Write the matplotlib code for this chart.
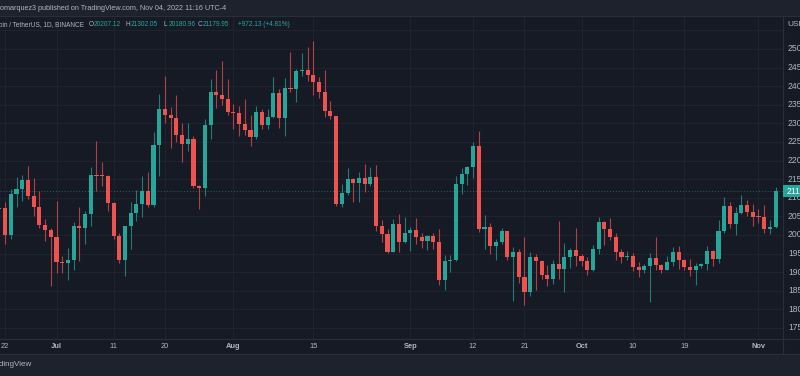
import matplotlib
matplotlib.use("Agg")
import matplotlib.pyplot as plt
import matplotlib.dates as mdates
from matplotlib import font_manager
from matplotlib.patches import Rectangle
from matplotlib.transforms import blended_transform_factory
import datetime as dt

# ---------------- data (BTC/USDT daily) ----------------
start_date = "2022-06-20"
opens = [20553, 20711, 20724, 19988, 21110, 21237, 21491, 21038, 20742, 20281, 20123,
         19942, 19279, 19252, 19315, 20236, 20175, 20564, 21624, 21594, 21591, 20862,
         19963, 19328, 20234, 20588, 20830, 21195, 20798, 22432, 23396, 23223, 23152,
         22684, 22451, 22579, 21310, 21254, 22952, 23842, 23773, 23643,
         23293, 23268, 22987, 22818, 22622, 23312, 22954, 23175, 23810, 23149, 23954,
         23935, 24403, 24442, 24306, 24103, 23855, 23342, 23191, 20835, 21140, 21517,
         21400, 21528, 21368, 21559, 20241, 20037, 19555, 20285, 19812,
         20050, 20127, 19952, 19832, 19986, 19812, 18791, 19290, 19319, 21361, 21652,
         21826, 22395, 20174, 20227, 19701, 19804, 20113, 19417, 19537, 18875, 18461,
         19401, 19289, 18920, 18807, 19227, 19079, 19412, 19591,
         19422, 19310, 19056, 19629, 20337, 20158, 19955, 19531, 19417, 19446, 19131,
         19060, 19155, 19382, 19185, 19068, 19268, 19550, 19334, 19139, 19053, 19172,
         19208, 19567, 19345, 20095, 20771, 20295, 20595, 20818, 20627,
         20491, 20483, 20151, 20207.12]
highs = [21035, 21723, 20900, 21233, 21558, 21614, 21868, 21540, 21194, 20433, 20180,
         20918, 19440, 19654, 20354, 20750, 20650, 21837, 22527, 21951, 21600, 20880,
         20048, 20242, 20891, 21200, 21588, 21684, 22777, 23800, 24276, 23442, 23756,
         22998, 23014, 22661, 21335, 23112, 24199, 24442, 24668, 24194,
         23509, 23459, 23647, 23223, 23472, 23398, 23400, 24245, 23933, 24226, 24918,
         24456, 24888, 25047, 25211, 24247, 24446, 23600, 23208, 21382, 21800, 21522,
         21686, 21900, 21819, 21886, 20400, 20158, 20433, 20577, 20490,
         20208, 20444, 20055, 20000, 20057, 20173, 19464, 19457, 21597, 21790, 21861,
         22488, 22799, 20541, 20330, 19890, 20189, 20117, 19686, 19634, 19956, 19550,
         19500, 19316, 19180, 19316, 20385, 19790, 19645, 20185,
         19484, 19395, 19719, 20475, 20365, 20456, 20055, 19628, 19559, 19525, 19268,
         19225, 19513, 19951, 19227, 19424, 19676, 19707, 19361, 19345, 19250, 19250,
         19695, 19601, 20413, 21020, 20877, 20750, 21085, 20930, 20845,
         20700, 20800, 20393, 21302.05]
lows = [19637, 20349, 19770, 19890, 20740, 20906, 20958, 20500, 20180, 19842, 18626,
        18975, 18975, 18782, 19050, 19305, 19760, 20240, 21189, 21320, 20655, 19900,
        19235, 18910, 19616, 20385, 20480, 20752, 20762, 21581, 23000, 22341, 22500,
        21950, 22257, 21250, 20706, 21042, 22582, 23414, 23500, 23227,
        22850, 22654, 22681, 22400, 22586, 22853, 22841, 23154, 22865, 22664, 23852,
        23580, 24281, 24133, 23773, 23671, 23180, 23111, 20783, 20761, 21069, 20890,
        20890, 21145, 21310, 20107, 19800, 19520, 19550, 19540, 19797,
        19565, 19755, 19659, 19600, 19633, 18649, 18510, 19010, 19291, 21111, 21350,
        21538, 20071, 19617, 19497, 19320, 19750, 19335, 18232, 18711, 18125, 18356,
        18531, 18805, 18629, 18680, 18816, 18471, 19101, 19155,
        19159, 18920, 19027, 19493, 19730, 19854, 19320, 19252, 19317, 19020, 18860,
        18965, 18190, 19070, 18975, 19063, 19157, 19094, 19071, 18900, 18650, 19120,
        19070, 19157, 19241, 20061, 20200, 20000, 20552, 20515, 20237,
        20330, 20048, 20032, 20180.96]
closes = [20711, 20724, 19988, 21110, 21237, 21491, 21038, 20742, 20281, 20123, 19942,
          19279, 19252, 19315, 20236, 20175, 20564, 21624, 21594, 21591, 20862, 19963,
          19328, 20234, 20588, 20830, 21195, 20798, 22432, 23396, 23223, 23152, 22684,
          22451, 22579, 21310, 21254, 22952, 23842, 23773, 23643, 23293,
          23268, 22987, 22818, 22622, 23312, 22954, 23175, 23810, 23149, 23954, 23935,
          24403, 24442, 24306, 24103, 23855, 23342, 23191, 20835, 21140, 21517, 21400,
          21528, 21368, 21559, 20241, 20037, 19555, 20285, 19812, 20050,
          20127, 19952, 19832, 19986, 19812, 18791, 19290, 19319, 21361, 21652, 21826,
          22395, 20174, 20227, 19701, 19804, 20113, 19417, 19537, 18875, 18461, 19401,
          19289, 18920, 18807, 19227, 19079, 19412, 19591, 19422,
          19310, 19056, 19629, 20337, 20158, 19955, 19531, 19417, 19446, 19131, 19060,
          19155, 19382, 19185, 19068, 19268, 19550, 19334, 19139, 19053, 19172, 19208,
          19567, 19345, 20095, 20771, 20295, 20595, 20818, 20627, 20491,
          20483, 20151, 20207, 21179.95]

price_ticks = [17500, 18000, 18500, 19000, 19500, 20000, 20500, 21000, 21500,
               22000, 22500, 23000, 23500, 24000, 24500, 25000, 25500]
date_tick_dates = ["2022-06-22", "2022-07-01", "2022-07-11", "2022-07-20", "2022-08-01",
                   "2022-08-15", "2022-09-01", "2022-09-12", "2022-09-21", "2022-10-01",
                   "2022-10-10", "2022-10-19", "2022-11-01"]
date_tick_labels = ["22", "Jul", "11", "20", "Aug", "15", "Sep", "12", "21", "Oct",
                    "10", "19", "Nov"]

header_text = "omarquez3 published on TradingView.com, Nov 04, 2022 11:16 UTC-4"
symbol_text = "Bitcoin / TetherUS, 1D, BINANCE"
last_open, last_high, last_low, last_close = "20207.12", "21302.05", "20180.96", "21179.95"
change_text = "+972.13 (+4.81%)"

# ---------------- style ----------------
BG = "#161a25"
BAR = "#1e222d"
SEP = "#2a2e39"
GRID = "#20242e"
UP = "#26a69a"
DOWN = "#ef5350"
TXT = "#b2b5be"
plt.rcParams['font.family'] = ['Liberation Sans', 'DejaVu Sans']

# a narrow face for the compact TradingView labels, if installed
narrow_names = {f.name for f in font_manager.fontManager.ttflist}
if 'Liberation Sans Narrow' in narrow_names:
    NARROW = ['Liberation Sans Narrow', 'DejaVu Sans']
    LEG_FS = 5.6
else:
    NARROW = ['Liberation Sans', 'DejaVu Sans']
    LEG_FS = 4.7

W, H = 800, 376
fig = plt.figure(figsize=(W / 100, H / 100), dpi=100, facecolor=BG)

def fx(x):
    return x / W

def fy(y):
    return 1 - y / H

AX_L, AX_R, AX_T, AX_B = 0, 783, 16, 339
ax = fig.add_axes([fx(AX_L), fy(AX_B), fx(AX_R - AX_L), (AX_B - AX_T) / H])
ax.set_facecolor(BG)
for s in ax.spines.values():
    s.set_visible(False)
ax.set_xticks([])
ax.set_yticks([])

d0 = dt.date.fromisoformat(start_date)
xs = [mdates.date2num(d0 + dt.timedelta(days=i)) for i in range(len(closes))]
jul1 = mdates.date2num(dt.date(2022, 7, 1))
px_per_day = 5.707
ax.set_xlim(jul1 - 56.5 / px_per_day, jul1 + (783 - 56.5) / px_per_day)
ax.set_ylim(17204, 25887)

# grid
for p in price_ticks:
    ax.axhline(p, color=GRID, lw=0.7, zorder=0)
tick_nums = [mdates.date2num(dt.date.fromisoformat(d)) for d in date_tick_dates]
for t in tick_nums:
    ax.axvline(t, color=GRID, lw=0.7, zorder=0)

# candles
min_h = 22
for x, o, h, l, c in zip(xs, opens, highs, lows, closes):
    col = UP if c >= o else DOWN
    ax.vlines(x, l, h, color=col, lw=0.8, alpha=0.7, zorder=2)
    bottom = min(o, c)
    height = max(abs(c - o), min_h)
    ax.bar(x, height, bottom=bottom, width=0.72, color=col, edgecolor=col, lw=0, zorder=3)

# last price dotted line
ax.axhline(closes[-1], color=UP, lw=0.7, ls=(0, (1, 2)), alpha=0.55, zorder=1)

# ---------------- frame elements ----------------
fig.patches.append(Rectangle((0, fy(16)), 1, 16 / H, transform=fig.transFigure,
                             facecolor=BAR, edgecolor='none', zorder=0))
fig.patches.append(Rectangle((0, 0), 1, (H - 354) / H, transform=fig.transFigure,
                             facecolor=BAR, edgecolor='none', zorder=0))
fig.lines.append(plt.Line2D([0, 1], [fy(16), fy(16)], transform=fig.transFigure,
                            color=SEP, lw=0.8))
fig.lines.append(plt.Line2D([0, 1], [fy(339), fy(339)], transform=fig.transFigure,
                            color=SEP, lw=0.8))
fig.lines.append(plt.Line2D([0, 1], [fy(354), fy(354)], transform=fig.transFigure,
                            color=SEP, lw=0.8))
fig.lines.append(plt.Line2D([fx(783), fx(783)], [fy(354), fy(16)], transform=fig.transFigure,
                            color=SEP, lw=0.8))

# price axis labels (the axis continues past the right edge of the picture)
trans_y = blended_transform_factory(fig.transFigure, ax.transData)
tag_y = closes[-1]
for p in price_ticks:
    if p == 25500:
        continue
    ax.text(fx(788), p, f"{p:.2f}", transform=trans_y, color=TXT, fontsize=6.2,
            va='center', ha='left', clip_on=False)
fig.text(fx(787), fy(24), "USDT", color=TXT, fontsize=6.0, va='center', ha='left')

# last price tag
tag_fy = ax.transData.transform((0, tag_y))[1] / H
fig.patches.append(Rectangle((fx(783), tag_fy - 6 / H), 1, 12 / H, transform=fig.transFigure,
                             facecolor=UP, edgecolor='none', zorder=5))
fig.text(fx(787), tag_fy, last_close, color='white', fontsize=6.2, va='center', ha='left',
         zorder=6)

# date labels
trans_x = blended_transform_factory(ax.transData, fig.transFigure)
for t, lab in zip(tick_nums, date_tick_labels):
    bold = lab.isalpha()
    ax.text(t, fy(347), lab, transform=trans_x, color=TXT, fontsize=5.4, va='center',
            ha='center', clip_on=False, fontweight='bold' if bold else 'normal')

# header and legend
fig.text(fx(0), fy(8), header_text, color=TXT, fontsize=5.2, va='center', ha='left')
fig.text(fx(84), fy(25), symbol_text, color=TXT, fontsize=LEG_FS, va='center', ha='right',
         family=NARROW)
legend_items = [(89, "O", last_open), (126, "H", last_high), (164, "L", last_low),
                (198, "C", last_close)]
for x0, k, v in legend_items:
    fig.text(fx(x0), fy(25), k, color=TXT, fontsize=LEG_FS, va='center', ha='left',
             family=NARROW)
    fig.text(fx(x0 + 5), fy(25), v, color=UP, fontsize=LEG_FS, va='center', ha='left',
             family=NARROW)
fig.text(fx(238), fy(25), change_text, color=UP, fontsize=LEG_FS, va='center', ha='left',
         family=NARROW)

# bottom logo text
fig.text(fx(32), fy(365), "TradingView", color=TXT, fontsize=5.8, va='center', ha='right')

fig.savefig("out.png", dpi=100, facecolor=BG)
